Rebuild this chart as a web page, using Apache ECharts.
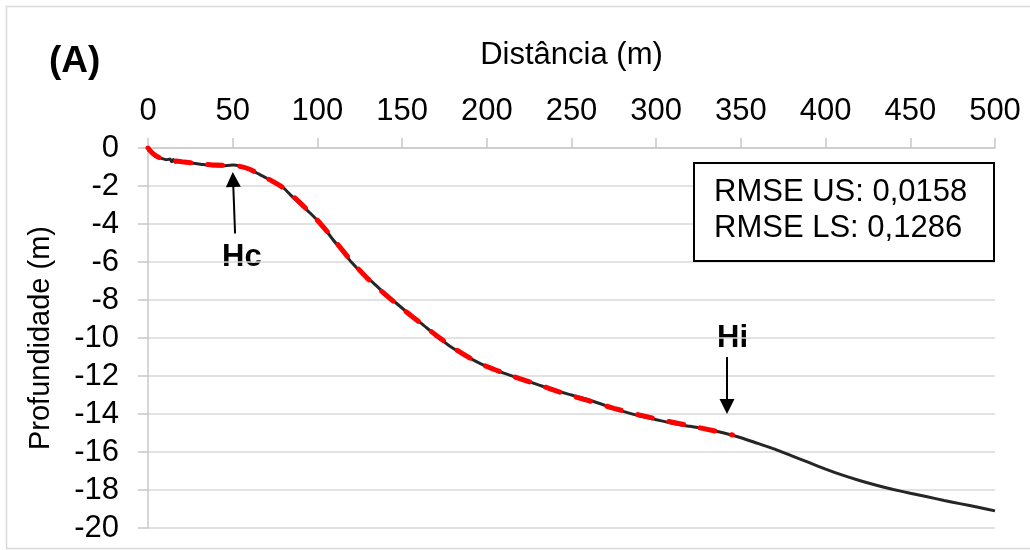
<!DOCTYPE html>
<html>
<head>
<meta charset="utf-8">
<script src="https://cdn.jsdelivr.net/npm/echarts@6/dist/echarts.min.js"></script>
<style>
  html, body { margin: 0; padding: 0; background: #fff; }
  #chart { width: 1030px; height: 550px; }
</style>
</head>
<body>
<div id="chart"></div>
<script>
// perfil medido (distância m, profundidade m)
var perfilDist = [0, 2, 4, 8, 11, 13, 14, 15, 16, 19, 25, 31, 38, 44, 50, 55, 60, 66, 72, 80, 85, 90, 96, 103, 109, 115, 120, 127, 133, 139, 145, 153, 161, 169, 177, 185, 193, 200, 210, 220, 230, 240, 250, 260, 270, 280, 290, 300, 310, 320, 330, 340, 350, 360, 370, 380, 390, 400, 410, 420, 430, 440, 450, 460, 470, 480, 490, 500];
var perfilProf = [-0.1, -0.25, -0.4, -0.55, -0.62, -0.58, -0.72, -0.6, -0.75, -0.7, -0.78, -0.85, -0.93, -0.95, -0.9, -0.97, -1.12, -1.4, -1.68, -2.1, -2.55, -2.95, -3.45, -4.1, -4.8, -5.45, -6.0, -6.65, -7.1, -7.6, -8.05, -8.65, -9.2, -9.8, -10.35, -10.8, -11.2, -11.5, -11.85, -12.15, -12.45, -12.75, -13.0, -13.25, -13.55, -13.85, -14.1, -14.3, -14.5, -14.65, -14.8, -15.0, -15.25, -15.55, -15.85, -16.2, -16.55, -16.9, -17.22, -17.5, -17.75, -17.97, -18.17, -18.36, -18.55, -18.73, -18.91, -19.1];

// perfil ajustado (tracejado vermelho)
var ajusteDist = [0, 3, 6, 10, 20, 30, 40, 50, 55, 60, 66, 72, 80, 90, 100, 110, 120, 130, 140, 150, 160, 170, 180, 190, 200, 215, 230, 245, 260, 275, 290, 305, 320, 335, 345];
var ajusteProf = [0, -0.3, -0.48, -0.6, -0.72, -0.82, -0.9, -0.92, -0.98, -1.12, -1.38, -1.68, -2.1, -2.9, -3.8, -4.85, -5.95, -6.9, -7.7, -8.45, -9.15, -9.85, -10.5, -11.05, -11.5, -12.0, -12.45, -12.9, -13.3, -13.7, -14.05, -14.35, -14.62, -14.9, -15.1];

// setas: [distância, profundidade] da cauda e da ponta
var setaHc = [[51.4, -4.5], [50.2, -1.66]];
var setaHi = [[341.8, -11.0], [341.8, -13.6]];

var textosRmse = ['RMSE US: 0,0158', 'RMSE LS: 0,1286'];

var fonte = '"Liberation Sans", Arial, sans-serif';

function pares(xs, ys) {
    var out = [];
    for (var i = 0; i < xs.length; i++) {
        out.push([xs[i], ys[i]]);
    }
    return out;
}

var myChart = echarts.init(document.getElementById('chart'));

var option = {
    backgroundColor: '#fff',
    animation: false,
    grid: { left: 148, right: 35, top: 148, bottom: 22 },
    xAxis: {
        type: 'value',
        position: 'top',
        min: 0, max: 500, interval: 50,
        name: 'Distância (m)',
        nameLocation: 'middle',
        nameGap: 77,
        nameTextStyle: { fontSize: 31, color: '#000', fontFamily: fonte },
        axisLine: { onZero: false, lineStyle: { color: '#c8c8c8', width: 1.5 } },
        axisTick: { show: true, length: 10, lineStyle: { color: '#c8c8c8', width: 1.5 } },
        axisLabel: { margin: 21, fontSize: 31, color: '#000', fontFamily: fonte },
        splitLine: { show: false }
    },
    yAxis: {
        type: 'value',
        min: -20, max: 0, interval: 2,
        name: 'Profundidade (m)',
        nameLocation: 'middle',
        nameGap: 93,
        nameTextStyle: { fontSize: 29, color: '#000', fontFamily: fonte },
        axisLine: { show: true, onZero: false, lineStyle: { color: '#c8c8c8', width: 1.5 } },
        axisTick: { show: true, length: 10, lineStyle: { color: '#c8c8c8', width: 1.5 } },
        axisLabel: { margin: 29, fontSize: 31, color: '#000', fontFamily: fonte },
        splitLine: { show: true, lineStyle: { color: '#d9d9d9', width: 1.5 } }
    },
    series: [
        {
            name: 'medido',
            type: 'line',
            data: pares(perfilDist, perfilProf),
            showSymbol: false,
            smooth: 0.2,
            lineStyle: { color: '#262626', width: 3 },
            z: 2
        },
        {
            name: 'ajuste',
            type: 'line',
            data: pares(ajusteDist, ajusteProf),
            showSymbol: false,
            smooth: 0.2,
            lineStyle: { color: '#ff0000', width: 5, type: [15, 17], cap: 'round' },
            z: 3,
            markLine: {
                silent: true,
                symbol: ['none', 'triangle'],
                symbolSize: [15, 15],
                label: { show: false },
                lineStyle: { color: '#000', width: 2, type: 'solid' },
                data: [
                    [{ coord: setaHc[0] }, { coord: setaHc[1] }],
                    [{ coord: setaHi[0] }, { coord: setaHi[1] }]
                ]
            }
        }
    ],
    graphic: [
        // moldura externa
        {
            type: 'rect',
            shape: { x: 6.5, y: 6.5, width: 1030, height: 542 },
            style: { fill: 'none', stroke: '#d9d9d9', lineWidth: 1.5 },
            silent: true
        },
        {
            type: 'text', left: 49, top: 43,
            style: { text: '(A)', font: 'bold 37px ' + fonte, fill: '#000' }
        },
        {
            type: 'text', left: 222, top: 242,
            style: { text: 'Hc', font: 'bold 31px ' + fonte, fill: '#000' }
        },
        {
            type: 'text', left: 717, top: 323,
            style: { text: 'Hi', font: 'bold 31px ' + fonte, fill: '#000' }
        },
        // caixa RMSE
        {
            type: 'rect',
            shape: { x: 694, y: 163, width: 300, height: 98 },
            style: { fill: '#fff', stroke: '#000', lineWidth: 2 },
            z: 10
        },
        {
            type: 'text', left: 714, top: 174, z: 11,
            style: { text: textosRmse.join('\n'), font: '31px ' + fonte, lineHeight: 36, fill: '#000' }
        }
    ]
};

myChart.setOption(option);
</script>
</body>
</html>
